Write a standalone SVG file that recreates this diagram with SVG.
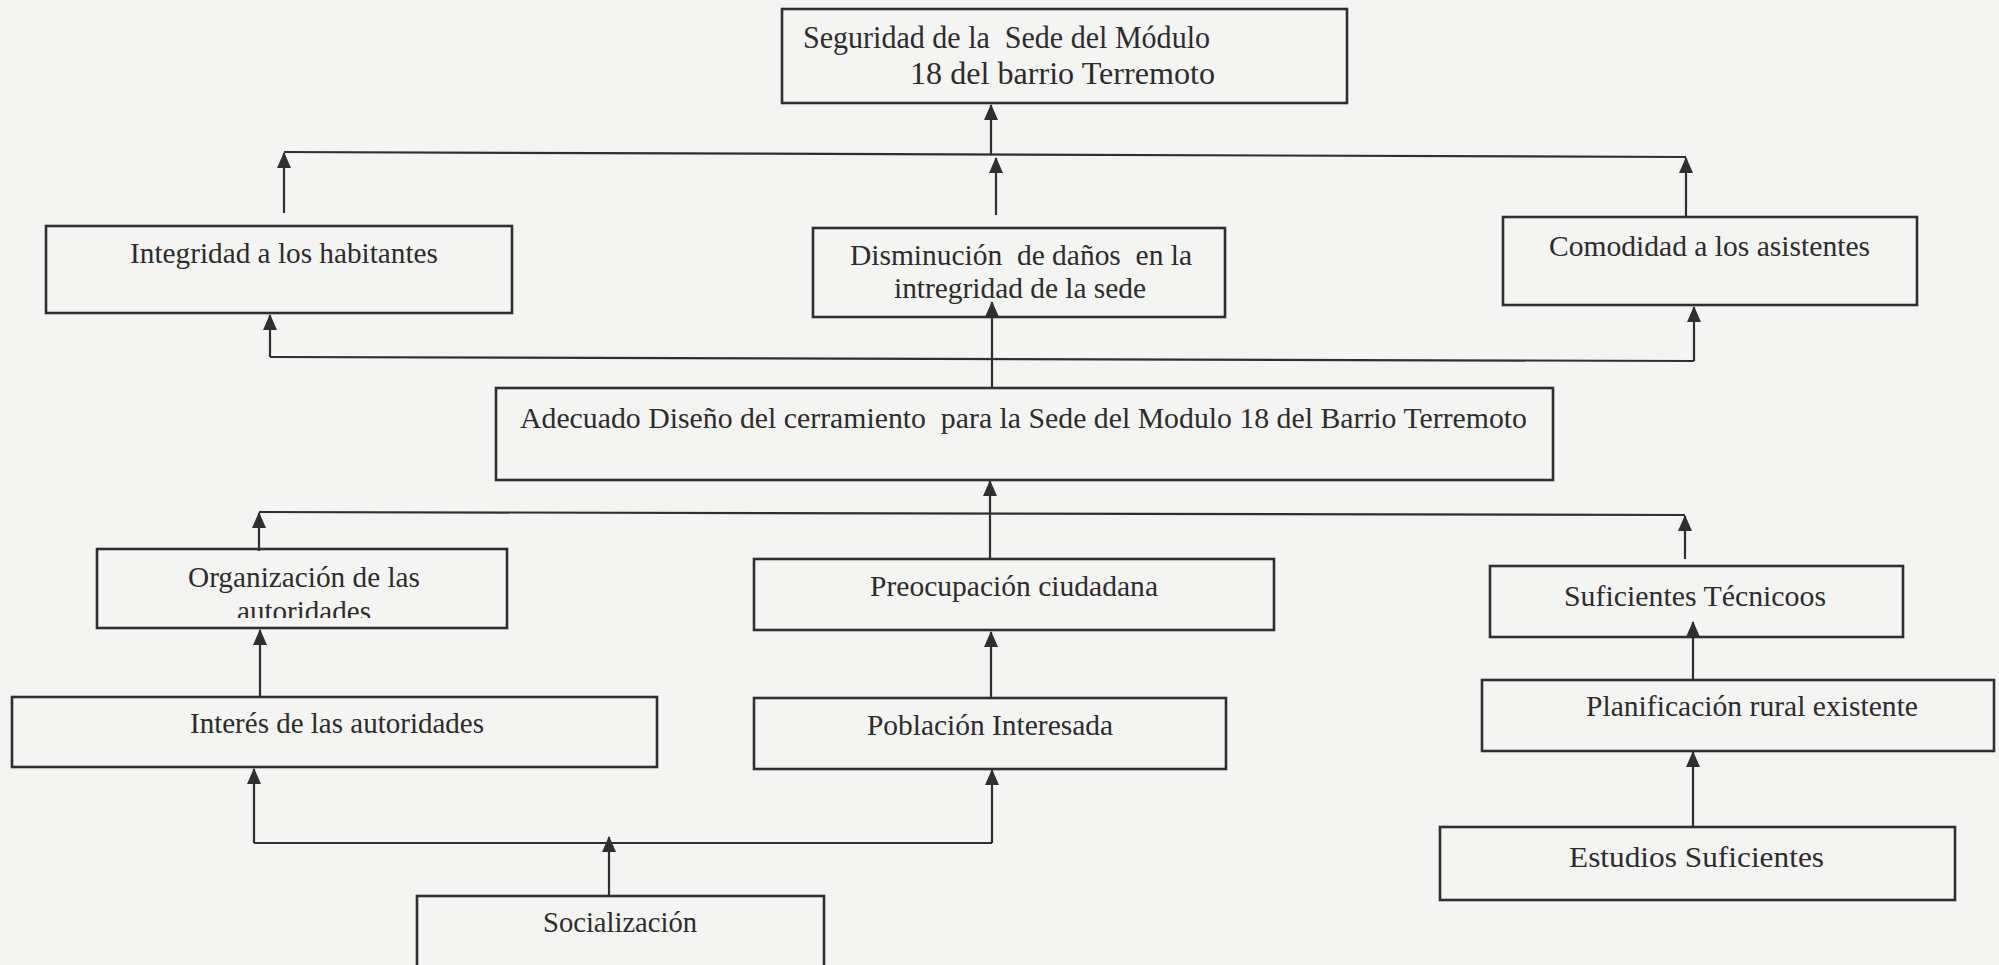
<svg xmlns="http://www.w3.org/2000/svg" width="1999" height="965" viewBox="0 0 1999 965">
<defs>
<style>
.box{fill:none;stroke:#2f2f2f;stroke-width:2.6}
.ln{fill:none;stroke:#2f2f2f;stroke-width:2.2}
.ar{fill:none;stroke:#2f2f2f;stroke-width:2.2;marker-end:url(#ah)}
.t{font-family:"Liberation Serif","Times New Roman",serif;font-size:30px;fill:#2c2c2c}
.tt{font-size:32px}
</style>
<marker id="ah" markerUnits="userSpaceOnUse" markerWidth="16" markerHeight="16" viewBox="0 0 16 16" refX="15" refY="8" orient="auto">
<path d="M0,1 L16,8 L0,15 z" fill="#2f2f2f"/>
</marker>
<clipPath id="clipOrg"><rect x="90" y="540" width="420" height="78"/></clipPath>
</defs>
<rect x="0" y="0" width="1999" height="965" fill="#f4f4f2"/>

<g id="node-seguridad">
<rect class="box" x="782" y="9" width="565" height="94"/>
<text class="t tt" x="803" y="48" textLength="407" lengthAdjust="spacingAndGlyphs" xml:space="preserve">Seguridad de la  Sede del Módulo</text>
<text class="t tt" x="910" y="84" textLength="305" lengthAdjust="spacingAndGlyphs">18 del barrio Terremoto</text>
</g>
<g id="node-integridad">
<rect class="box" x="46" y="226" width="466" height="87"/>
<text class="t" x="130" y="263" textLength="308" lengthAdjust="spacingAndGlyphs">Integridad a los habitantes</text>
</g>
<g id="node-disminucion">
<rect class="box" x="813" y="228" width="412" height="89"/>
<text class="t" x="850" y="265" textLength="342" lengthAdjust="spacingAndGlyphs" xml:space="preserve">Disminución  de daños  en la</text>
<text class="t" x="894" y="298" textLength="252" lengthAdjust="spacingAndGlyphs">intregridad de la sede</text>
</g>
<g id="node-comodidad">
<rect class="box" x="1503" y="217" width="414" height="88"/>
<text class="t" x="1549" y="256" textLength="321" lengthAdjust="spacingAndGlyphs">Comodidad a los asistentes</text>
</g>
<g id="node-adecuado">
<rect class="box" x="496" y="388" width="1057" height="92"/>
<text class="t" x="520" y="428" textLength="1007" lengthAdjust="spacingAndGlyphs" xml:space="preserve">Adecuado Diseño del cerramiento  para la Sede del Modulo 18 del Barrio Terremoto</text>
</g>
<g id="node-organizacion">
<rect class="box" x="97" y="549" width="410" height="79"/>
<text class="t" x="188" y="587" textLength="232" lengthAdjust="spacingAndGlyphs">Organización de las</text>
<text class="t" x="237" y="621" textLength="134" lengthAdjust="spacingAndGlyphs" clip-path="url(#clipOrg)">autoridades</text>
</g>
<g id="node-preocupacion">
<rect class="box" x="754" y="559" width="520" height="71"/>
<text class="t" x="870" y="596" textLength="288" lengthAdjust="spacingAndGlyphs">Preocupación ciudadana</text>
</g>
<g id="node-suficientes">
<rect class="box" x="1490" y="566" width="413" height="71"/>
<text class="t" x="1564" y="606" textLength="262" lengthAdjust="spacingAndGlyphs">Suficientes Técnicoos</text>
</g>
<g id="node-interes">
<rect class="box" x="12" y="697" width="645" height="70"/>
<text class="t" x="190" y="733" textLength="294" lengthAdjust="spacingAndGlyphs">Interés de las autoridades</text>
</g>
<g id="node-poblacion">
<rect class="box" x="754" y="698" width="472" height="71"/>
<text class="t" x="867" y="735" textLength="246" lengthAdjust="spacingAndGlyphs">Población Interesada</text>
</g>
<g id="node-planificacion">
<rect class="box" x="1482" y="680" width="512" height="71"/>
<text class="t" x="1586" y="716" textLength="332" lengthAdjust="spacingAndGlyphs">Planificación rural existente</text>
</g>
<g id="node-estudios">
<rect class="box" x="1440" y="827" width="515" height="73"/>
<text class="t" x="1569" y="867" textLength="255" lengthAdjust="spacingAndGlyphs">Estudios Suficientes</text>
</g>
<g id="node-socializacion">
<rect class="box" x="417" y="896" width="407" height="80"/>
<text class="t" x="543" y="932" textLength="154" lengthAdjust="spacingAndGlyphs">Socialización</text>
</g>

<g id="connectors">
<line class="ln" x1="284" y1="152" x2="1686" y2="157"/>
<line class="ar" x1="991" y1="154" x2="991" y2="105"/>
<line class="ar" x1="284" y1="213" x2="284" y2="153"/>
<line class="ar" x1="996" y1="215" x2="996" y2="158"/>
<line class="ar" x1="1686" y1="217" x2="1686" y2="158"/>

<line class="ln" x1="270" y1="357" x2="1694" y2="361"/>
<line class="ar" x1="270" y1="357" x2="270" y2="315"/>
<line class="ar" x1="1694" y1="361" x2="1694" y2="307"/>
<line class="ar" x1="992" y1="388" x2="992" y2="302"/>

<line class="ln" x1="259" y1="512" x2="1685" y2="515"/>
<line class="ar" x1="259" y1="551" x2="259" y2="513"/>
<line class="ar" x1="1685" y1="559" x2="1685" y2="516"/>
<line class="ar" x1="990" y1="559" x2="990" y2="481"/>

<line class="ar" x1="260" y1="697" x2="260" y2="630"/>
<line class="ar" x1="991" y1="698" x2="991" y2="632"/>
<line class="ar" x1="1693" y1="680" x2="1693" y2="622"/>
<line class="ar" x1="1693" y1="827" x2="1693" y2="752"/>

<line class="ln" x1="254" y1="843" x2="992" y2="843"/>
<line class="ar" x1="254" y1="843" x2="254" y2="769"/>
<line class="ar" x1="992" y1="843" x2="992" y2="770"/>
<line class="ar" x1="609" y1="896" x2="609" y2="837"/>
</g>
</svg>
